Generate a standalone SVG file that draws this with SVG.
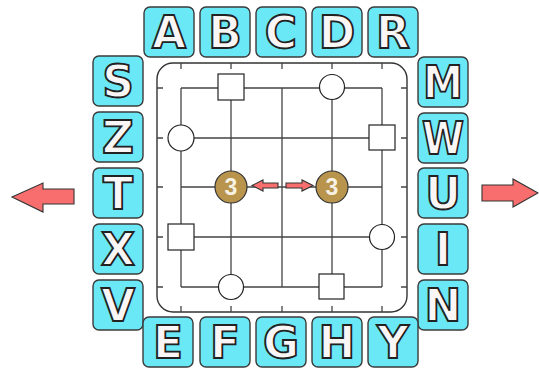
<svg xmlns="http://www.w3.org/2000/svg" width="539" height="370" viewBox="0 0 539 370">
<style>
.tile{fill:#6be8f6;stroke:#3a3a3a;stroke-width:1.4}
.let{font-family:"DejaVu Sans","Liberation Sans",Arial,sans-serif;font-weight:bold;font-size:44px;fill:#faf6f6;stroke:#222;stroke-width:1.8;text-anchor:middle}
.grid{stroke:#444;stroke-width:1.3;fill:none}
.node{fill:#fff;stroke:#222;stroke-width:1.2}
.brown{fill:#b9944c;stroke:#333;stroke-width:1.2}
.num{font-family:"Liberation Sans",Arial,sans-serif;font-weight:bold;font-size:23px;fill:#f6f1e2;text-anchor:middle}
.arrow{fill:#f86e6e;stroke:#333;stroke-width:1.1}
</style>
<g id="board">
<rect x="157" y="63" width="250" height="249" rx="16" fill="#fff" stroke="#333" stroke-width="1.4"/>
</g>
<g id="connectors">
<path class="grid" d="M181 88H382M181 138H382M181 187H382M181 237H382M181 287H382M181 88V287M231 88V287M282 88V287M332 88V287M382 88V287"/>
<path class="grid" d="M181 63V69M231 63V69M282 63V69M332 63V69M382 63V69M181 306V312M231 306V312M282 306V312M332 306V312M382 306V312M157 88H163M157 138H163M157 187H163M157 237H163M157 287H163M401 88H407M401 138H407M401 187H407M401 237H407M401 287H407"/>
<path class="arrow" d="M252 185.5L263 180V183H278V188H263V191Z"/>
<path class="arrow" d="M313 185.5L302 180V183H286V188H302V191Z"/>
</g>
<g id="n1"><rect class="node" x="218" y="74" width="26" height="26"/></g>
<g id="n2"><circle class="node" cx="332" cy="87" r="12.5"/></g>
<g id="n3"><circle class="node" cx="181" cy="138" r="13"/></g>
<g id="n4"><rect class="node" x="369" y="125" width="26" height="25"/></g>
<g id="n5"><circle class="brown" cx="231" cy="187" r="16"/><text class="num" x="231" y="195">3</text></g>
<g id="n6"><circle class="brown" cx="332" cy="187" r="16"/><text class="num" x="332" y="195">3</text></g>
<g id="n7"><rect class="node" x="168" y="224" width="26" height="26"/></g>
<g id="n8"><circle class="node" cx="382" cy="237" r="12.5"/></g>
<g id="n9"><circle class="node" cx="231" cy="287" r="12.5"/></g>
<g id="n10"><rect class="node" x="319" y="274" width="25" height="25"/></g>
<g id="bigLeft"><path class="arrow" d="M12 197L43 183V189H74V204H43V212Z"/></g>
<g id="bigRight"><path class="arrow" d="M538 193L513 179V185H482V201H513V207Z"/></g>
<g id="tA"><rect class="tile" x="144" y="7" width="50" height="50" rx="6"/><text class="let" x="169" y="48">A</text></g>
<g id="tB"><rect class="tile" x="200" y="7" width="50" height="50" rx="6"/><text class="let" x="225" y="48">B</text></g>
<g id="tC"><rect class="tile" x="256" y="7" width="50" height="50" rx="6"/><text class="let" x="281" y="48">C</text></g>
<g id="tD"><rect class="tile" x="312" y="7" width="50" height="50" rx="6"/><text class="let" x="337" y="48">D</text></g>
<g id="tR"><rect class="tile" x="368" y="7" width="50" height="50" rx="6"/><text class="let" x="393" y="48">R</text></g>
<g id="tS"><rect class="tile" x="93" y="56" width="50" height="50" rx="6"/><text class="let" x="118" y="97">S</text></g>
<g id="tZ"><rect class="tile" x="93" y="112" width="50" height="50" rx="6"/><text class="let" x="118" y="153">Z</text></g>
<g id="tT"><rect class="tile" x="93" y="168" width="50" height="50" rx="6"/><text class="let" x="118" y="209">T</text></g>
<g id="tX"><rect class="tile" x="93" y="224" width="50" height="50" rx="6"/><text class="let" x="118" y="265">X</text></g>
<g id="tV"><rect class="tile" x="93" y="280" width="50" height="50" rx="6"/><text class="let" x="118" y="321">V</text></g>
<g id="tM"><rect class="tile" x="418" y="57" width="50" height="50" rx="6"/><text class="let" x="443" y="98" textLength="40" lengthAdjust="spacingAndGlyphs">M</text></g>
<g id="tW"><rect class="tile" x="418" y="113" width="50" height="50" rx="6"/><text class="let" x="443" y="154" textLength="42" lengthAdjust="spacingAndGlyphs">W</text></g>
<g id="tU"><rect class="tile" x="418" y="168" width="50" height="50" rx="6"/><text class="let" x="443" y="209">U</text></g>
<g id="tI"><rect class="tile" x="418" y="224" width="50" height="50" rx="6"/><text class="let" x="443" y="265">I</text></g>
<g id="tN"><rect class="tile" x="418" y="280" width="50" height="50" rx="6"/><text class="let" x="443" y="321">N</text></g>
<g id="tE"><rect class="tile" x="143" y="317" width="50" height="50" rx="6"/><text class="let" x="168" y="358">E</text></g>
<g id="tF"><rect class="tile" x="200" y="317" width="50" height="50" rx="6"/><text class="let" x="225" y="358">F</text></g>
<g id="tG"><rect class="tile" x="256" y="317" width="50" height="50" rx="6"/><text class="let" x="281" y="358">G</text></g>
<g id="tH"><rect class="tile" x="312" y="317" width="50" height="50" rx="6"/><text class="let" x="337" y="358">H</text></g>
<g id="tY"><rect class="tile" x="368" y="317" width="50" height="50" rx="6"/><text class="let" x="393" y="358">Y</text></g>
</svg>
